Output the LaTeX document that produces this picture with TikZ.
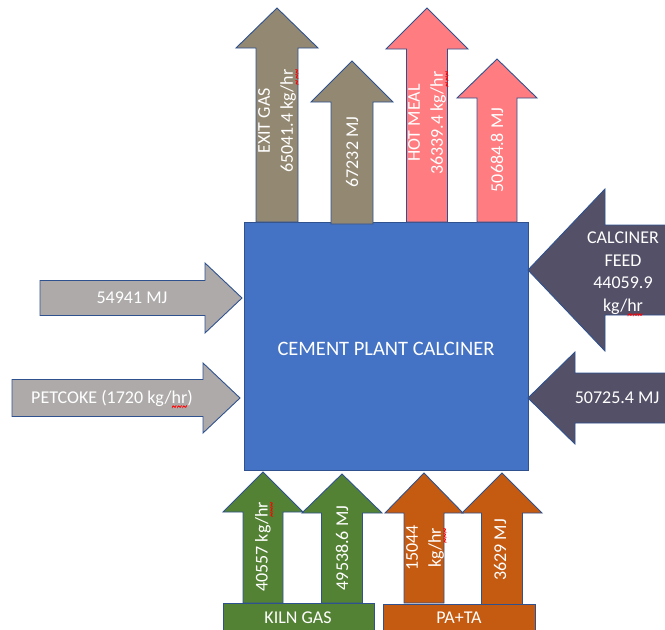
\documentclass[tikz,border=0pt]{standalone}
\usepackage{fontspec}
\setmainfont{Carlito}
\usepackage{graphicx}
\definecolor{edge}{HTML}{2F528F}
\definecolor{boxblue}{HTML}{4472C4}
\definecolor{exitbrown}{HTML}{938872}
\definecolor{mealpink}{HTML}{FF7C80}
\definecolor{feedslate}{HTML}{545068}
\definecolor{fuelgray}{HTML}{AEAAAA}
\definecolor{kilngreen}{HTML}{548235}
\definecolor{airorange}{HTML}{C55A11}
% red wavy underline as left by a spell checker
\newsavebox\sqbox
\newcommand\sq[1]{\sbox\sqbox{#1}\rlap{\smash{\raisebox{-9.5pt}{\color{red}\resizebox{\wd\sqbox}{7pt}{\fontsize{8}{8}\selectfont\textasciitilde\textasciitilde\textasciitilde}}}}#1}
% vertical block arrow: fill, centre x, tip y, head base y, head half width, shaft half width, shaft end y
\newcommand\blockup[7]{\draw[blk,fill=#1] (#2-#6,#7) -- (#2-#6,#4) -- (#2-#5,#4) -- (#2,#3) -- (#2+#5,#4) -- (#2+#6,#4) -- (#2+#6,#7) -- cycle;}
% horizontal block arrow: fill, centre y, shaft end x, shaft half height, head base x, head half height, tip x
\newcommand\blockh[7]{\draw[blk,fill=#1] (#3,#2-#4) -- (#5,#2-#4) -- (#5,#2-#6) -- (#7,#2) -- (#5,#2+#6) -- (#5,#2+#4) -- (#3,#2+#4) -- cycle;}
\begin{document}
\begin{tikzpicture}[x=1pt,y=-1pt,
  blk/.style={draw=edge, line width=0.9pt, line join=miter},
  lbl/.style={text=white, font=\fontsize{18}{23}\selectfont, align=center, inner sep=0pt},
  vlbl/.style={lbl, rotate=90}]
\path[use as bounding box, clip] (0,0) rectangle (665,630);

% calciner body
\node[blk, fill=boxblue, minimum width=284pt, minimum height=248pt, inner sep=0pt] (calciner) at (386,346) {};
\node[lbl, font=\fontsize{20.5}{24}\selectfont] (title) at (386,349) {CEMENT PLANT CALCINER};

% outgoing streams (top)
\blockup{exitbrown}{277}{8}{48}{41}{21}{222}
\blockup{exitbrown}{352}{61}{102}{41}{21}{224}
\blockup{mealpink}{427}{8}{49}{41}{20.5}{222}
\blockup{mealpink}{497}{59}{98}{40}{20}{222}
\node[vlbl] (exitgas) at (277,121) {EXIT GAS\\65041.4 kg/\sq{hr}};
\node[vlbl] (exitheat) at (352,152) {67232 MJ};
\node[vlbl] (hotmeal) at (427,123) {HOT MEAL\\36339.4 kg/\sq{hr}};
\node[vlbl] (mealheat) at (497,150) {50684.8 MJ};

% fuel inputs (left)
\blockh{fuelgray}{298}{40}{17.5}{205}{35}{242}
\blockh{fuelgray}{398}{12}{18.5}{203}{35}{240}
\node[lbl] (fuelheat) at (132,298) {54941 MJ};
\node[lbl] (petcoke) at (112,398) {PETCOKE (1720 kg/\sq{hr})};

% raw meal inputs (right)
\blockh{feedslate}{270}{690}{45}{605}{81}{528}
\blockh{feedslate}{398}{690}{25}{575}{46}{528}
\node[lbl, font=\fontsize{18}{22.5}\selectfont] (feed) at (623,273) {CALCINER\\FEED\\44059.9\\kg/\sq{hr}};
\node[lbl] (feedheat) at (617,398) {50725.4 MJ};

% kiln gas and air inputs (bottom)
\blockup{kilngreen}{263}{472}{512}{40}{20}{603}
\blockup{kilngreen}{342}{474}{513}{40}{20.5}{603}
\blockup{airorange}{424}{473}{513}{39}{20}{603}
\blockup{airorange}{502}{473}{513}{40}{20.5}{605}
\node[vlbl] (kilnmass) at (263,547) {40557 kg/\sq{hr}};
\node[vlbl] (kilnheat) at (342,548) {49538.6 MJ};
\node[vlbl] (airmass) at (425,548) {15044\\kg/\sq{hr}};
\node[vlbl] (airheat) at (500,550) {3629 MJ};

% source labels
\node[blk, fill=kilngreen, minimum width=151pt, minimum height=40pt, inner sep=0pt] (kilngas) at (298.5,623) {};
\node[lbl] (kilngastext) at (298,618) {KILN GAS};
\node[blk, fill=airorange, minimum width=152pt, minimum height=40pt, inner sep=0pt] (pata) at (459,624) {};
\node[lbl] (patatext) at (459,618) {PA+TA};
\end{tikzpicture}
\end{document}
